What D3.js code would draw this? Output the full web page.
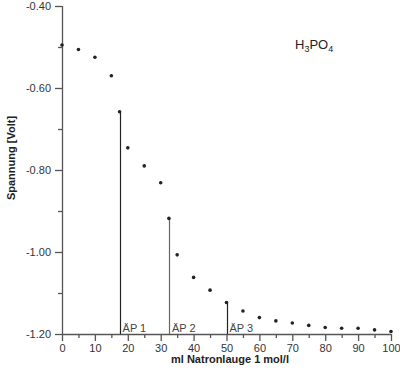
<!DOCTYPE html>
<html>
<head>
<meta charset="utf-8">
<script src="https://cdn.jsdelivr.net/npm/d3@7"></script>
<style>
  body { margin: 0; background: #fff; }
  svg { font-family: "Liberation Sans", Arial, sans-serif; }
  .tick text { font-size: 11px; fill: #333; }
  .axis_labels { font-size: 11px; font-weight: bold; fill: #222; }
  .ap_labels { font-size: 11px; fill: #444; }
</style>
</head>
<body>
<svg id="chart" width="400" height="371"></svg>
<script>
// titration of H3PO4 with NaOH
var volume = [0, 5, 10, 15, 17.5, 20, 25, 30, 32.5, 35, 40, 45, 50, 55, 60, 65, 70, 75, 80, 85, 90, 95, 100];
var voltage = [-0.495, -0.506, -0.525, -0.570, -0.658, -0.746, -0.790, -0.831, -0.918, -1.007, -1.062, -1.093,
               -1.123, -1.144, -1.160, -1.168, -1.173, -1.179, -1.184, -1.186, -1.186, -1.190, -1.194];
var apVolume = [17.5, 32.5, 50];
var apVoltage = [-0.658, -0.918, -1.123];
var apNames = ["ÄP 1", "ÄP 2", "ÄP 3"];
var xTicks = [0, 10, 20, 30, 40, 50, 60, 70, 80, 90, 100];
var yTicks = [-0.40, -0.60, -0.80, -1.00, -1.20];

var svg = d3.select("#chart");
var x = d3.scaleLinear().domain([0, 100]).range([62, 391]);
var y = d3.scaleLinear().domain([-1.2, -0.4]).range([334, 6]);
var axisColor = "#555";

// x axis, major + minor ticks
var xAxis = svg.append("g")
    .attr("transform", "translate(0," + y(-1.2) + ")")
    .call(d3.axisBottom(x).tickValues(xTicks).tickSize(7).tickPadding(3).tickFormat(d3.format("d")));
svg.append("g")
    .attr("transform", "translate(0," + y(-1.2) + ")")
    .call(d3.axisBottom(x).tickValues(d3.range(5, 100, 10)).tickSize(4).tickFormat(""))
    .select(".domain").remove();

var yAxis = svg.append("g")
    .attr("transform", "translate(" + x(0) + ",0)")
    .call(d3.axisLeft(y).tickValues(yTicks).tickSize(7).tickPadding(4)
      .tickFormat(function(d) { return d.toFixed(2); }));
svg.append("g")
    .attr("transform", "translate(" + x(0) + ",0)")
    .call(d3.axisLeft(y).tickValues([-0.5, -0.7, -0.9, -1.1]).tickSize(4).tickFormat(""))
    .select(".domain").remove();

svg.selectAll(".domain").attr("stroke", axisColor).attr("stroke-width", 1.3);
svg.selectAll(".tick line").attr("stroke", axisColor).attr("stroke-width", 1.3);
xAxis.select(".domain").attr("d", "M" + x(0) + ",0.5H" + x(100));
yAxis.select(".domain").attr("d", "M0.5," + y(-0.4) + "V" + y(-1.2));

// equivalence point lines
svg.selectAll("ap_lines")
    .data(apVolume)
    .enter()
    .append("line")
    .attr("x1", function(d) { return Math.round(x(d)) + 0.5; })
    .attr("x2", function(d) { return Math.round(x(d)) + 0.5; })
    .attr("y1", function(d, i) { return y(apVoltage[i]); })
    .attr("y2", y(-1.2))
    .attr("stroke", function(d, i) { return i == 1 ? "#666" : "#222"; })
    .attr("stroke-width", 1.2);

svg.selectAll("ap_text")
    .data(apVolume)
    .enter()
    .append("text")
    .attr("class", "ap_labels")
    .attr("x", function(d) { return x(d) + 3; })
    .attr("y", y(-1.2) - 2)
    .text(function(d, i) { return apNames[i]; });

// measured points
svg.selectAll("points")
    .data(volume)
    .enter()
    .append("circle")
    .attr("cx", function(d) { return x(d); })
    .attr("cy", function(d, i) { return y(voltage[i]); })
    .attr("r", 1.8)
    .style("fill", "#222");

// labels
svg.append("text")
    .attr("class", "axis_labels")
    .attr("x", 230)
    .attr("y", 363)
    .style("text-anchor", "middle")
    .text("ml Natronlauge 1 mol/l");
svg.append("text")
    .attr("class", "axis_labels")
    .attr("transform", "translate(15,158) rotate(-90)")
    .style("text-anchor", "middle")
    .text("Spannung [Volt]");

var title = svg.append("text")
    .attr("x", 295)
    .attr("y", 49)
    .style("font-size", "13px")
    .style("fill", "#222");
title.append("tspan").text("H");
title.append("tspan").text("3").attr("dy", 3).style("font-size", "9px");
title.append("tspan").text("PO").attr("dy", -3);
title.append("tspan").text("4").attr("dy", 3).style("font-size", "9px");
</script>
</body>
</html>
